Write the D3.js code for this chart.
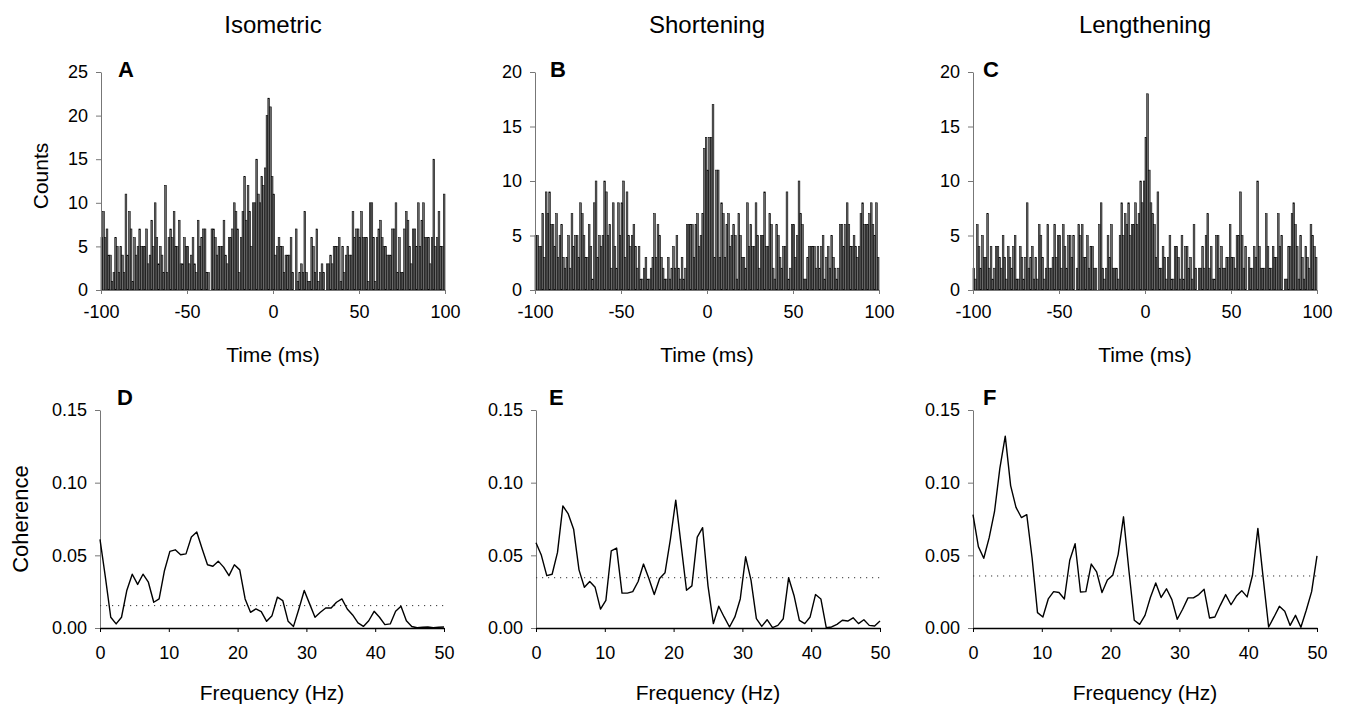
<!DOCTYPE html>
<html>
<head>
<meta charset="utf-8">
<script src="https://cdn.jsdelivr.net/npm/d3@7"></script>
<style>
  body { margin: 0; background: #fff; }
  text { font-family: 'Liberation Sans', Arial, sans-serif; fill: #000; }
</style>
</head>
<body>
<div id="figure"></div>
<script>
// condition names, one per column
const conditions = ['Isometric', 'Shortening', 'Lengthening'];
const histLetters = ['A', 'B', 'C'];
const cohLetters = ['D', 'E', 'F'];

// tick labels
const timeTicks = [-100, -50, 0, 50, 100];
const countTicksIso = [0, 5, 10, 15, 20, 25];
const countTicksShort = [0, 5, 10, 15, 20];
const countTicksLength = [0, 5, 10, 15, 20];
const freqTicks = [0, 10, 20, 30, 40, 50];
const cohTicks = [0, 0.05, 0.10, 0.15];

// cross-correlation histograms, 1 ms bins from -100 to +99 ms
const countsIso = [
  6,9,6,7,4,4,1,2,6,5, 2,5,4,2,11,4,9,7,1,6, 4,5,7,5,5,5,7,3,4,8, 5,10,6,3,5,4,2,12,2,6,
  7,6,9,5,5,8,3,3,6,5, 5,3,4,6,3,2,8,5,6,7, 7,2,2,0,7,7,6,4,5,5, 5,8,4,3,6,6,7,10,9,7,
  2,6,9,13,8,12,9,5,10,10, 15,11,10,13,12,14,20,22,21,13,
  11,4,5,6,5,5,2,4,4,4, 6,2,0,7,1,2,3,2,9,2, 1,1,6,5,2,7,1,2,3,2, 0,3,3,4,3,5,5,5,6,1,
  5,2,4,5,4,4,9,6,7,7, 6,9,6,6,6,1,10,10,6,1, 6,7,8,6,5,5,4,4,4,7, 7,10,2,6,2,2,7,9,8,5,
  3,7,7,5,10,5,8,10,6,6, 6,3,6,15,5,6,9,5,5,11
];
const countsShort = [
  5,5,4,4,7,3,9,7,9,6, 6,4,7,3,5,6,3,2,3,5, 2,7,4,5,5,3,8,7,5,3, 3,6,4,1,8,10,3,5,4,5,
  10,9,5,6,2,8,4,2,8,5, 8,10,3,9,5,4,5,6,4,2, 4,1,1,2,3,1,1,2,3,7, 3,6,5,3,2,1,1,3,1,2,
  4,2,5,2,1,3,1,2,6,6, 6,6,3,6,7,4,5,7,13,14,
  11,14,14,17,3,11,11,3,8,7, 3,6,7,4,5,6,5,1,7,5, 3,3,2,8,4,6,4,4,8,5, 2,5,5,9,4,4,7,6,2,1,
  6,5,3,2,4,4,9,1,2,6, 6,3,5,10,7,6,1,1,3,4, 4,4,4,2,4,2,4,5,1,3, 4,2,5,3,2,1,2,6,6,4,
  6,8,6,4,4,5,4,3,4,7, 8,6,6,6,7,8,6,5,8,3
];
const countsLength = [
  2,1,6,4,2,5,3,3,7,2, 4,1,2,4,4,3,2,5,3,1, 4,3,2,4,5,1,1,4,3,1, 3,8,2,3,4,1,3,1,6,5,
  3,1,2,6,2,2,3,6,3,5, 5,2,6,4,2,5,5,3,5,0, 2,6,5,6,3,3,5,2,4,4, 2,2,0,6,8,2,1,2,5,3,
  6,2,2,2,1,5,8,5,7,6, 8,5,6,6,8,6,7,10,8,10,
  14,18,11,8,7,6,3,9,2,2, 4,3,1,3,5,1,1,4,4,3, 1,5,1,4,4,2,3,1,6,2, 0,2,2,4,2,5,7,2,4,1,
  1,5,5,2,4,2,2,3,3,6, 3,3,2,5,5,9,5,2,4,0, 3,2,2,4,3,10,4,2,2,2, 7,4,2,2,4,3,3,7,4,5,
  0,1,1,4,4,7,8,6,4,1, 5,3,1,4,3,2,6,5,4,3
];

// coherence spectra, 65 estimates from 0 to 50 Hz
const cohIso = [
  0.061,0.035,0.0074,0.0028,0.0074,0.026,0.037,0.030,0.037,0.0315,
  0.0177,0.020,0.0396,0.0527,0.0538,0.0504,0.051,0.0626,0.066,0.0545,
  0.0435,0.0425,0.046,0.0419,0.036,0.0435,0.040,0.020,0.0108,0.0131,
  0.0113,0.0046,0.0085,0.0212,0.0189,0.0046,0.0011,0.0131,0.0258,0.0166,
  0.0074,0.0108,0.0138,0.0138,0.0177,0.020,0.0131,0.009,0.0035,0.0011,
  0.005,0.0115,0.0074,0.0023,0.0028,0.0115,0.015,0.005,0.001,0.0002,
  0.0005,0.0007,0.0002,0.0005,0.0007
];
const cohShort = [
  0.0586,0.050,0.036,0.037,0.052,0.084,0.0785,0.068,0.040,0.028,
  0.032,0.028,0.013,0.019,0.053,0.055,0.024,0.024,0.025,0.032,
  0.044,0.034,0.023,0.034,0.038,0.061,0.088,0.057,0.026,0.029,
  0.0625,0.069,0.029,0.003,0.015,0.0076,0.0007,0.0076,0.020,0.049,
  0.033,0.0064,0.0011,0.0057,0.0002,0.0018,0.0064,0.0346,0.0224,0.0053,
  0.003,0.0076,0.023,0.020,0.0002,0.0007,0.0025,0.0053,0.0048,0.007,
  0.003,0.0057,0.0018,0.0014,0.0048
];
const cohLength = [
  0.078,0.056,0.048,0.062,0.080,0.110,0.132,0.098,0.083,0.076,
  0.078,0.048,0.0106,0.0076,0.020,0.025,0.0244,0.020,0.0466,0.058,
  0.0248,0.025,0.044,0.0386,0.0244,0.033,0.0363,0.0505,0.0765,0.0397,
  0.0053,0.0025,0.0087,0.021,0.031,0.021,0.027,0.0195,0.006,0.0129,
  0.0207,0.0207,0.023,0.0266,0.0069,0.0076,0.0156,0.023,0.016,0.022,
  0.0257,0.0214,0.0363,0.0685,0.034,0.0007,0.0076,0.0149,0.0115,0.0018,
  0.0087,0.0005,0.0122,0.025,0.0496
];

// 95% confidence limits for the coherence
const cohLimits = [0.0154, 0.0346, 0.0358];

/**
 * Draw one cross-correlation histogram
 */
function drawHistogram(svg, col, counts, yTicks, letter) {
  const LEFT = [101, 535, 973][col];
  const WIDTH = 344;
  const TOP = 72;
  const BOTTOM = 290;

  const x = d3.scaleLinear().domain([-100, 100]).range([LEFT, LEFT + WIDTH]);
  const y = d3.scaleLinear().domain([0, d3.max(yTicks)]).range([BOTTOM, TOP]);

  const g = svg.append('g');

  g.append('g')
    .selectAll('rect')
    .data(counts)
    .join('rect')
      .attr('x', (_, i) => x(-100 + i))
      .attr('width', (_, i) => x(-99 + i) - x(-100 + i))
      .attr('y', d => y(d))
      .attr('height', d => y(0) - y(d))
      .attr('fill', '#6a6a6a')
      .attr('stroke', '#000')
      .attr('stroke-width', 0.55);

  const yAxis = g.append('g')
    .attr('transform', 'translate(' + LEFT + ',0)')
    .call(d3.axisLeft(y).tickValues(yTicks).tickSize(5).tickPadding(8).tickSizeOuter(0));
  // plain hyphen for negatives, as in the original figure
  const xAxis = g.append('g')
    .attr('transform', 'translate(0,' + BOTTOM + ')')
    .call(d3.axisBottom(x).tickValues(timeTicks).tickFormat(d => String(d))
      .tickSize(4).tickPadding(11).tickSizeOuter(0));

  [yAxis, xAxis].forEach(a => {
    a.select('.domain').attr('stroke', '#777');
    a.selectAll('.tick line').attr('stroke', '#777');
    a.selectAll('text').attr('font-size', 18).attr('font-family', null);
  });

  g.append('text')
    .attr('x', LEFT + [17, 15, 10][col])
    .attr('y', 77)
    .attr('font-size', 22)
    .attr('font-weight', 'bold')
    .text(letter);

  g.append('text')
    .attr('x', LEFT + WIDTH / 2)
    .attr('y', 362)
    .attr('text-anchor', 'middle')
    .attr('font-size', 21)
    .text('Time (ms)');
}

/**
 * Draw one coherence spectrum with its confidence limit
 */
function drawCoherence(svg, col, values, limit, letter) {
  const LEFT = [100, 536, 973][col];
  const WIDTH = 344;
  const TOP = 410;
  const BOTTOM = 628;
  const FREQ_STEP = 50 / (values.length - 1);

  const x = d3.scaleLinear().domain([0, 50]).range([LEFT, LEFT + WIDTH]);
  const y = d3.scaleLinear().domain([0, 0.15]).range([BOTTOM, TOP]);

  const g = svg.append('g');

  const yAxis = g.append('g')
    .attr('transform', 'translate(' + LEFT + ',0)')
    .call(d3.axisLeft(y).tickValues(cohTicks).tickFormat(d3.format('.2f'))
      .tickSize(5).tickPadding(8).tickSizeOuter(0));
  yAxis.select('.domain').attr('stroke', '#777');
  yAxis.selectAll('.tick line').attr('stroke', '#777');

  // significance level
  g.append('line')
    .attr('x1', x(0))
    .attr('x2', x(50))
    .attr('y1', y(limit))
    .attr('y2', y(limit))
    .attr('stroke', '#333')
    .attr('stroke-width', 1)
    .attr('stroke-dasharray', '1.2,4.8');

  const line = d3.line()
    .x((_, i) => x(i * FREQ_STEP))
    .y(d => y(d));

  g.append('path')
    .datum(values)
      .attr('fill', 'none')
      .attr('stroke', '#000')
      .attr('stroke-width', 1.4)
      .attr('stroke-linejoin', 'round')
      .attr('d', line);

  const xAxis = g.append('g')
    .attr('transform', 'translate(0,' + BOTTOM + ')')
    .call(d3.axisBottom(x).tickValues(freqTicks).tickSize(4).tickPadding(14).tickSizeOuter(0));
  xAxis.select('.domain').attr('stroke', '#000').attr('stroke-width', 1.6);

  [yAxis, xAxis].forEach(a => {
    a.selectAll('text').attr('font-size', 18).attr('font-family', null);
  });

  g.append('text')
    .attr('x', LEFT + [17, 13, 10][col])
    .attr('y', 405)
    .attr('font-size', 22)
    .attr('font-weight', 'bold')
    .text(letter);

  g.append('text')
    .attr('x', LEFT + WIDTH / 2)
    .attr('y', 700)
    .attr('text-anchor', 'middle')
    .attr('font-size', 21)
    .text('Frequency (Hz)');
}

/**
 * Entry point
 */
(function main() {
  const SVG_WIDTH = 1347;
  const SVG_HEIGHT = 709;

  const svg = d3.select('#figure').append('svg')
    .attr('width', SVG_WIDTH)
    .attr('height', SVG_HEIGHT);

  const counts = [countsIso, countsShort, countsLength];
  const countTicks = [countTicksIso, countTicksShort, countTicksLength];
  const coherence = [cohIso, cohShort, cohLength];

  conditions.forEach((name, col) => {
    svg.append('text')
      .attr('x', [273, 707, 1145][col])
      .attr('y', 33)
      .attr('text-anchor', 'middle')
      .attr('font-size', 24)
      .text(name);

    drawHistogram(svg, col, counts[col], countTicks[col], histLetters[col]);
    drawCoherence(svg, col, coherence[col], cohLimits[col], cohLetters[col]);
  });

  svg.append('text')
    .attr('transform', 'translate(48,176) rotate(-90)')
    .attr('text-anchor', 'middle')
    .attr('font-size', 21)
    .text('Counts');

  svg.append('text')
    .attr('transform', 'translate(28,519) rotate(-90)')
    .attr('text-anchor', 'middle')
    .attr('font-size', 22)
    .text('Coherence');
})();
</script>
</body>
</html>
